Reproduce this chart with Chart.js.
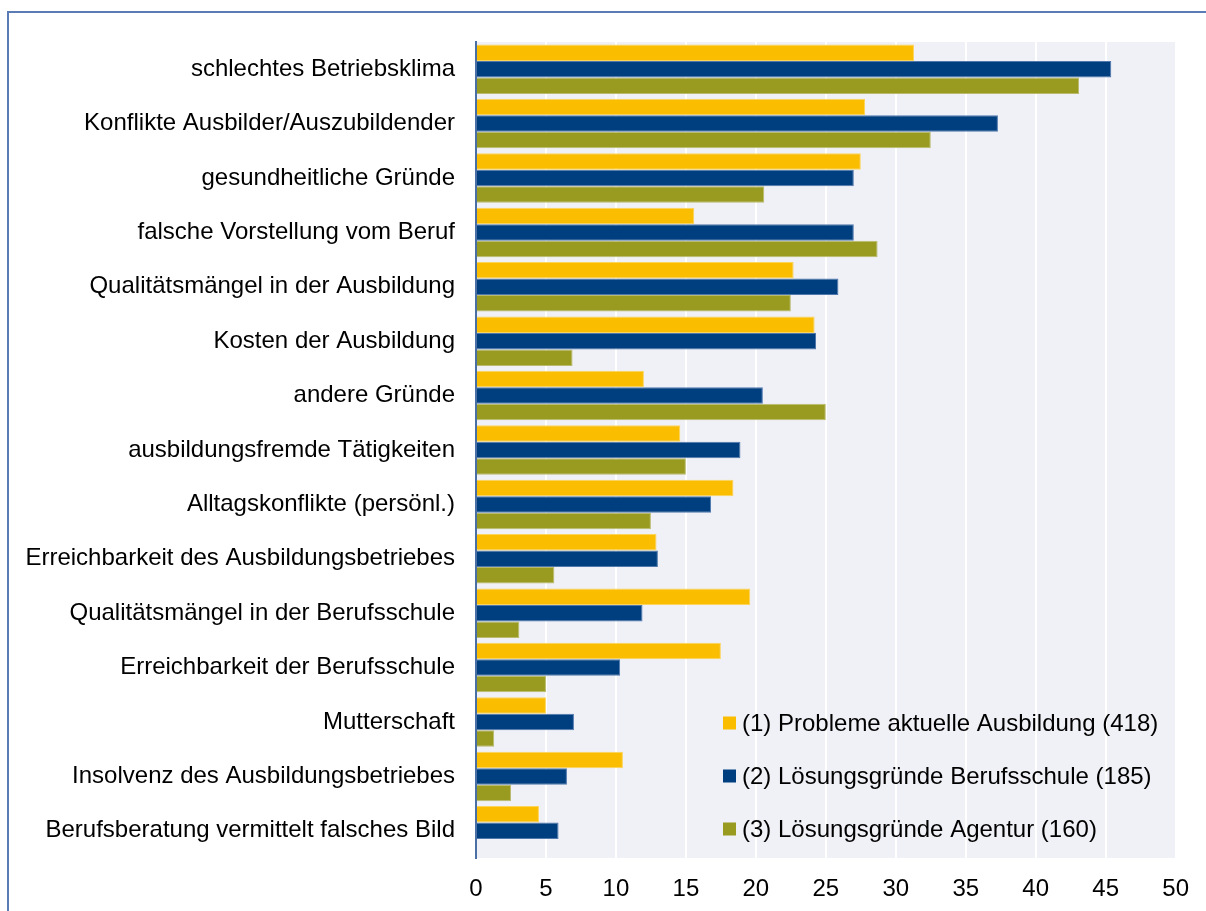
<!DOCTYPE html>
<html>
<head>
<meta charset="utf-8">
<script src="https://cdn.jsdelivr.net/npm/chart.js@4/dist/chart.umd.min.js"></script>
<style>
  html, body { margin: 0; padding: 0; background: #fff; }
  #wrap { width: 1206px; height: 911px; position: relative; }
</style>
</head>
<body>
<div id="wrap"><canvas id="grafico"></canvas></div>
<script>
// categorias (de arriba a abajo)
const categorias = [
  'schlechtes Betriebsklima',
  'Konflikte Ausbilder/Auszubildender',
  'gesundheitliche Gründe',
  'falsche Vorstellung vom Beruf',
  'Qualitätsmängel in der Ausbildung',
  'Kosten der Ausbildung',
  'andere Gründe',
  'ausbildungsfremde Tätigkeiten',
  'Alltagskonflikte (persönl.)',
  'Erreichbarkeit des Ausbildungsbetriebes',
  'Qualitätsmängel in der Berufsschule',
  'Erreichbarkeit der Berufsschule',
  'Mutterschaft',
  'Insolvenz des Ausbildungsbetriebes',
  'Berufsberatung vermittelt falsches Bild'
];

const serie1Nombre = '(1) Probleme aktuelle Ausbildung (418)';
const serie2Nombre = '(2) Lösungsgründe Berufsschule (185)';
const serie3Nombre = '(3) Lösungsgründe Agentur (160)';

const serie1 = [31.3, 27.8, 27.5, 15.6, 22.7, 24.2, 12.0, 14.6, 18.4, 12.9, 19.6, 17.5, 5.0, 10.5, 4.5];
const serie2 = [45.4, 37.3, 27.0, 27.0, 25.9, 24.3, 20.5, 18.9, 16.8, 13.0, 11.9, 10.3, 7.0, 6.5, 5.9];
const serie3 = [43.1, 32.5, 20.6, 28.7, 22.5, 6.9, 25.0, 15.0, 12.5, 5.6, 3.1, 5.0, 1.3, 2.5, 0];

const ejeMin = 0;
const ejeMax = 50;
const ejePaso = 5;

const fuente = "'Liberation Sans', Arial, sans-serif";

// fondo del area y marco azul
const fondoPlugin = {
  id: 'fondo',
  beforeDraw(chart) {
    const { ctx, chartArea: a } = chart;
    ctx.save();
    ctx.strokeStyle = '#5b7bb4';
    ctx.lineWidth = 2;
    ctx.strokeRect(8, 12, 1230, 940);
    ctx.fillStyle = '#f0f1f7';
    ctx.fillRect(a.left, a.top, a.right - a.left, a.bottom - a.top);
    ctx.restore();
  }
};

// leyenda dentro del grafico, abajo a la derecha
const leyendaPlugin = {
  id: 'leyendaDentro',
  afterDraw(chart) {
    const { ctx, chartArea: a } = chart;
    ctx.save();
    ctx.font = '24px ' + fuente;
    ctx.textBaseline = 'middle';
    chart.data.datasets.forEach((ds, i) => {
      const y = a.bottom - 135 + i * 53;
      const x = a.left + 247;
      ctx.fillStyle = ds.backgroundColor;
      ctx.fillRect(x, y - 6.5, 13, 13);
      ctx.fillStyle = '#000';
      ctx.fillText(ds.label, x + 19, y + 1);
    });
    ctx.restore();
  }
};

new Chart(document.getElementById('grafico'), {
  type: 'bar',
  data: {
    labels: categorias,
    datasets: [
      { label: serie1Nombre, data: serie1, backgroundColor: '#fabd00', borderColor: '#fcd45a', borderWidth: 1 },
      { label: serie2Nombre, data: serie2, backgroundColor: '#003f7f', borderColor: '#4f78ad', borderWidth: 1 },
      { label: serie3Nombre, data: serie3, backgroundColor: '#999a20', borderColor: '#b9ba6c', borderWidth: 1 }
    ]
  },
  options: {
    indexAxis: 'y',
    responsive: true,
    maintainAspectRatio: false,
    animation: false,
    datasets: { bar: { categoryPercentage: 0.91, barPercentage: 1.0 } },
    layout: { padding: { top: 42, right: 30, left: 0, bottom: 0 } },
    scales: {
      x: {
        min: ejeMin,
        max: ejeMax,
        afterFit(s) { s.height = 53; },
        ticks: { stepSize: ejePaso, color: '#000', font: { family: fuente, size: 24 }, padding: 17 },
        grid: {
          color: c => c.tick && c.tick.value === 0 ? 'rgba(0,0,0,0)' : '#ffffff',
          lineWidth: 2,
          drawTicks: false
        },
        border: { display: false }
      },
      y: {
        afterFit(s) { s.width = 476; },
        ticks: { color: '#000', font: { family: fuente, size: 24 }, padding: 21 },
        grid: { display: false, drawTicks: false },
        border: { display: true, color: '#4a6fa5', width: 2 }
      }
    },
    plugins: {
      legend: { display: false },
      tooltip: { enabled: false }
    }
  },
  plugins: [fondoPlugin, leyendaPlugin]
});
</script>
</body>
</html>
